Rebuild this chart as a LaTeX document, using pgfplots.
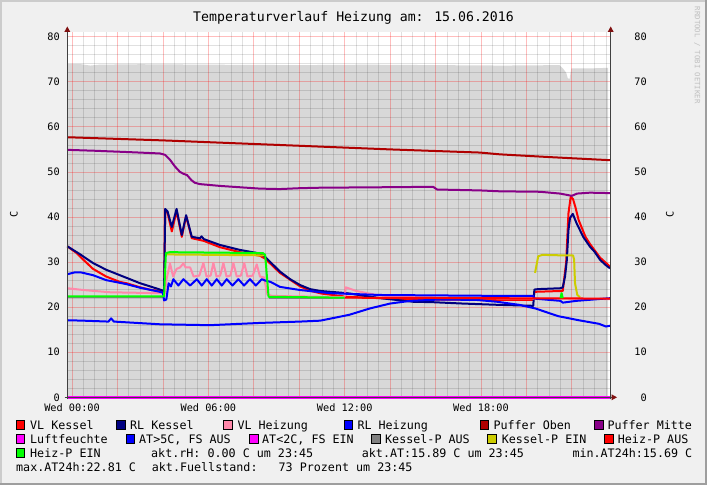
\documentclass[border=0pt]{standalone}
\usepackage{fontspec}
\usepackage{pgfplots}
\pgfplotsset{compat=1.18}
\newfontfamily\mono{DejaVu Sans Mono}
\newcommand\axfont{\mono\fontsize{10.25}{12}\selectfont}
\newcommand\legfont{\mono\fontsize{11.7}{14}\selectfont}
\newcommand\titfont{\mono\fontsize{13.2}{16}\selectfont}
\newcommand\wmfont{\mono\fontsize{7.3}{9}\selectfont}
\definecolor{bg}{RGB}{240,240,240}
\definecolor{areagray}{RGB}{216,216,216}
\definecolor{vlk}{RGB}{255,0,0}
\definecolor{rlk}{RGB}{0,0,128}
\definecolor{vlh}{RGB}{255,136,170}
\definecolor{rlh}{RGB}{0,0,255}
\definecolor{puo}{RGB}{176,0,0}
\definecolor{pum}{RGB}{136,0,136}
\definecolor{luf}{RGB}{255,0,255}
\definecolor{kpa}{RGB}{128,128,128}
\definecolor{kpe}{RGB}{204,204,0}
\definecolor{hpa}{RGB}{255,0,0}
\definecolor{hpe}{RGB}{0,255,0}
\definecolor{axc}{RGB}{64,64,64}
\definecolor{arr}{RGB}{128,16,16}
\definecolor{brl}{RGB}{204,204,204}
\definecolor{brd}{RGB}{158,158,158}
\newcommand\legsq[3]{\filldraw[fill=#3, draw=black, line width=0.7pt] (#1,#2) rectangle ++(8.6,8.6);}
\newcommand\legtx[3]{\node[anchor=base west, inner sep=0pt] at (#1,#2) {\legfont #3};}

\begin{document}
\begin{tikzpicture}[x=1pt,y=1pt]
\path[use as bounding box] (0,0) rectangle (707,485);
\fill[bg] (0,0) rectangle (707,485);
\fill[brl] (0,483) rectangle (707,485);
\fill[brl] (0,0) rectangle (2,485);
\fill[brd] (0,0) rectangle (707,2);
\fill[brd] (705,0) rectangle (707,485);
\coordinate (O) at (67.3,87.7);

% axis 1: canvas, fill level area, right labels
\begin{axis}[at={(O)}, anchor=south west, scale only axis,
  width=543.4pt, height=365.3pt,
  xmin=-0.21, xmax=23.71, ymin=0, ymax=81.05,
  axis background/.style={fill=white},
  axis line style={draw=none},
  xtick=\empty,
  ytick={0,10,...,80}, yticklabel pos=right,
  major tick length=0pt,
  yticklabel style={font=\axfont, anchor=east, inner sep=0pt, xshift=36.3pt},
  /pgf/number format/assume math mode=true]
\addplot[fill=areagray, draw=none] coordinates {
(-0.21,73.9) (0.4,73.9) (0.8,73.6) (1.2,73.8) (3,73.9) (6,73.8) (10,73.7) (13,73.8)
(16,73.7) (19,73.6) (21.45,73.7) (21.6,73.0) (21.75,72.0) (21.82,70.8) (21.9,70.6)
(21.97,72.9) (22.0,73.0) (23.0,73.0) (23.6,73.1)} \closedcycle;
\end{axis}

% axis 2: grid, lines, left labels
\begin{axis}[at={(O)}, anchor=south west, scale only axis,
  width=543.4pt, height=365.3pt,
  xmin=-0.21, xmax=23.71, ymin=0, ymax=81.05,
  clip=false,
  axis line style={draw=none},
  xtick={0,2,...,22},
  xticklabels={Wed 00:00,,,Wed 06:00,,,Wed 12:00,,,Wed 18:00,,},
  minor xtick={0.5,1,1.5,2.5,3,3.5,4.5,5,5.5,6.5,7,7.5,8.5,9,9.5,10.5,11,11.5,12.5,13,13.5,14.5,15,15.5,16.5,17,17.5,18.5,19,19.5,20.5,21,21.5,22.5,23,23.5},
  ytick={0,10,...,80},
  minor ytick={2,4,6,8,12,14,16,18,22,24,26,28,32,34,36,38,42,44,46,48,52,54,56,58,62,64,66,68,72,74,76,78},
  major tick length=0pt, minor tick length=0pt,
  grid=both,
  major grid style={draw=red, opacity=0.26, line width=0.75pt},
  minor grid style={draw=black, opacity=0.12, line width=0.75pt},
  yticklabel style={font=\axfont, anchor=east, inner sep=0pt, xshift=-7.3pt},
  xticklabel style={font=\axfont, anchor=base, inner sep=0pt, yshift=-14.4pt},
  /pgf/number format/assume math mode=true,
  every axis plot/.append style={line width=2pt, line join=round}]
% Kessel-P AUS
\addplot[kpa] coordinates {(-0.21,22.2) (4.05,22.2)};
\addplot[kpa] coordinates {(8.65,22.1) (12.0,22.1)};
% VL Kessel
\addplot[vlk] coordinates {
(-0.21,33.5) (0.2,32.0) (0.5,30.5) (0.92,28.5) (1.5,26.8) (2.1,25.6) (2.4,25.3) (3.0,24.4)
(3.5,23.8) (3.87,23.6) (4.05,23.3) (4.1,41.5) (4.2,41.0) (4.39,36.8) (4.6,41.3) (4.83,35.6)
(5.02,40.2) (5.27,35.3) (5.63,34.9) (5.8,34.7) (6.51,33.3) (7.39,32.2) (8.27,31.4) (8.49,30.8)
(9.15,27.6) (10.04,24.6) (10.5,23.6) (11,23.0) (12.1,22.3) (14,21.9) (16,21.7) (18,21.6)
(20.3,21.6) (20.35,23.4) (21.6,23.6) (21.75,30.0) (21.85,40.8) (21.95,44.5) (22.05,44.0)
(22.15,42.3) (22.3,39.3) (22.6,35.6) (22.8,34.0) (23.24,31.0) (23.68,29.0)};
% RL Kessel
\addplot[rlk] coordinates {
(-0.21,33.5) (0.3,31.9) (0.92,29.8) (1.5,28.3) (2.1,27.1) (2.4,26.5) (3.0,25.3) (3.5,24.5)
(3.87,23.9) (4.05,23.6) (4.1,41.8) (4.2,41.3) (4.39,37.8) (4.6,41.8) (4.83,36.0) (5.02,40.4)
(5.27,35.6) (5.63,35.3) (5.7,35.7) (5.8,35.1) (6.51,33.8) (7.39,32.7) (8.27,31.9) (8.49,31.2)
(9.15,27.9) (9.6,26.2) (10.04,24.9) (10.48,24.0) (10.92,23.6) (12.1,23.1) (13.56,22.0)
(15.0,21.2) (15.89,21.1) (17.2,20.8) (18.84,20.5) (20.3,20.3) (20.35,23.9) (20.5,24.0)
(21.5,24.2) (21.6,24.4) (21.7,26.8) (21.78,30.5) (21.85,37.1) (21.92,39.8) (22.04,40.7)
(22.21,38.6) (22.5,35.6) (22.8,33.4) (23.0,32.3) (23.24,30.5) (23.5,29.3) (23.68,28.6)};
% VL Heizung
\addplot[vlh] coordinates {
(-0.21,24.2) (0.5,23.8) (1.68,23.3) (3.87,23.1) (4.1,23.1) (4.15,26) (4.31,29.7) (4.45,26.8)
(4.6,28.5) (4.75,28.8) (4.9,29.7) (5.0,28.8) (5.2,28.8) (5.35,26.8) (5.6,27) (5.78,29.8)
(5.92,26.8) (6.1,27) (6.22,29.8) (6.36,26.8) (6.52,27) (6.66,29.8) (6.8,26.8) (6.97,27)
(7.1,29.8) (7.25,26.8) (7.43,27) (7.58,29.8) (7.72,26.8) (7.95,27) (8.13,29.5) (8.27,26.8)
(8.45,26.6) (8.6,22.8) (8.8,22.5) (12.0,22.2) (12.05,24.4) (12.5,23.6) (13.5,22.6)
(15,22.2) (18,22.0) (23.7,21.8)};
% RL Heizung
\addplot[rlh] coordinates {
(-0.21,27.3) (0.1,27.7) (0.4,27.7) (0.92,27.1) (1.5,26.0) (2.4,25.1) (3.0,24.3) (3.87,23.4)
(4.0,23.2) (4.05,21.5) (4.15,21.7) (4.25,25.3) (4.35,24.6) (4.46,26.2) (4.68,24.8) (4.9,26.2)
(5.2,24.8) (5.49,26.2) (5.71,24.8) (5.93,26.2) (6.15,24.8) (6.37,26.2) (6.59,24.8) (6.81,26.2)
(7.06,24.8) (7.32,26.2) (7.57,24.8) (7.83,26.2) (8.09,24.8) (8.35,26.2) (8.5,25.9)
(8.74,25.6) (9.15,24.5) (10.04,23.8) (11.36,23.1) (13.56,22.7) (18.84,22.5) (20.3,22.5)
(20.35,21.9) (21.5,21.4) (21.6,21.0) (22.2,21.4) (23.7,22.0)};
% Puffer Oben
\addplot[puo] coordinates {
(-0.21,57.7) (4,57.0) (10.04,55.8) (14,55.0) (17.96,54.3) (18.84,53.9) (21,53.3) (23.7,52.6)};
% Puffer Mitte
\addplot[pum] coordinates {
(-0.21,54.9) (1,54.7) (2.5,54.4) (3.87,54.1) (4.09,53.8) (4.31,52.7) (4.53,51.2) (4.75,50.0)
(4.9,49.6) (5.06,49.3) (5.25,48.2) (5.4,47.6) (5.63,47.3) (6.51,46.9) (7.39,46.6) (8.27,46.3)
(9.15,46.2) (10.04,46.4) (10.92,46.5) (13.56,46.6) (15.89,46.7) (16.07,46.1) (17.96,45.9)
(18.84,45.7) (20.6,45.6) (21.48,45.2) (22.0,44.7) (22.23,45.2) (22.8,45.4) (23.7,45.3)};
% Luftfeuchte
\addplot[luf, line width=2.5pt] coordinates {(-0.21,0) (23.71,0)};
% AT>5C, FS AUS
\addplot[rlh] coordinates {
(-0.21,17.1) (0.5,17.0) (1.6,16.8) (1.72,17.5) (1.84,16.8) (3.87,16.2) (6.07,16.0) (8.27,16.5)
(10.04,16.8) (10.92,17.0) (12.2,18.3) (13.1,19.7) (14.0,20.8) (14.9,21.4) (16.2,21.7)
(17.8,21.6) (18.7,21.2) (19.7,20.5) (20.4,19.7) (21.4,18.0) (22.3,17.1) (23.2,16.3)
(23.5,15.7) (23.7,15.9)};
% Kessel-P EIN
\addplot[kpe] coordinates {(4.13,31.7) (8.45,31.5)};
\addplot[kpe] coordinates {
(20.38,27.6) (20.52,31.3) (20.7,31.6) (21.5,31.5) (22.05,31.5) (22.1,30.5) (22.14,25.3)
(22.24,22.7) (22.36,22.2)};
% Heiz-P AUS
\addplot[hpa] coordinates {(12.0,22.1) (23.7,21.9)};
% Heiz-P EIN
\addplot[hpe] coordinates {
(-0.21,22.4) (4.05,22.4) (4.13,32.0) (4.3,32.2) (8.4,32.0) (8.5,31.6) (8.65,22.3) (12.0,22.1)};
\addplot[hpe] coordinates {(21.5,22.0) (21.55,23.1) (21.6,22.0)};
\end{axis}

% axis lines and arrows
\draw[axc, line width=1pt] (67.3,85.7) -- (67.3,453.5);
\draw[axc, line width=1pt] (610.7,85.7) -- (610.7,453.5);
\draw[axc, line width=1pt] (64.5,87.7) -- (612,87.7);
\fill[arr] (64.3,453) -- (70.3,453) -- (67.3,458.5) -- cycle;
\fill[arr] (607.7,453) -- (613.7,453) -- (610.7,458.5) -- cycle;
\fill[arr] (611.5,84.7) -- (611.5,90.7) -- (617,87.7) -- cycle;

% titles
\node[anchor=base, inner sep=0pt] at (353.5,463.3) {\titfont Temperaturverlauf Heizung am: 15.06.2016};
\node[rotate=90, inner sep=0pt] at (14,270.3) {\axfont C};
\node[rotate=90, inner sep=0pt] at (670,270.3) {\axfont C};
\node[rotate=-90, anchor=west, inner sep=0pt, text=black!25] at (697.3,478.3) {\wmfont RRDTOOL / TOBI OETIKER};

% legend row 1
\legsq{16}{56}{vlk}\legtx{30}{56}{VL Kessel}
\legsq{116.7}{56}{rlk}\legtx{130}{56}{RL Kessel}
\legsq{223.3}{56}{vlh}\legtx{237.3}{56}{VL Heizung}
\legsq{344}{56}{rlh}\legtx{357.3}{56}{RL Heizung}
\legsq{480}{56}{puo}\legtx{493.3}{56}{Puffer Oben}
\legsq{594.3}{56}{pum}\legtx{607.3}{56}{Puffer Mitte}
% row 2
\legsq{16}{41.7}{luf}\legtx{30}{41.7}{Luftfeuchte}
\legsq{126}{41.7}{rlh}\legtx{139}{41.7}{AT>5C, FS AUS}
\legsq{249.3}{41.7}{luf}\legtx{262}{41.7}{AT<2C, FS EIN}
\legsq{371.7}{41.7}{kpa}\legtx{385}{41.7}{Kessel-P AUS}
\legsq{487.7}{41.7}{kpe}\legtx{501.7}{41.7}{Kessel-P EIN}
\legsq{604.3}{41.7}{hpa}\legtx{617.7}{41.7}{Heiz-P AUS}
% row 3
\legsq{16}{27.7}{hpe}\legtx{30}{27.7}{Heiz-P EIN}
\legtx{151}{27.7}{akt.rH: 0.00 C um 23:45}
\legtx{361.7}{27.7}{akt.AT:15.89 C um 23:45}
\legtx{572.3}{27.7}{min.AT24h:15.69 C}
% row 4
\legtx{16}{13.3}{max.AT24h:22.81 C}
\legtx{151.7}{13.3}{akt.Fuellstand:\ \ \ 73 Prozent um 23:45}
\end{tikzpicture}
\end{document}
